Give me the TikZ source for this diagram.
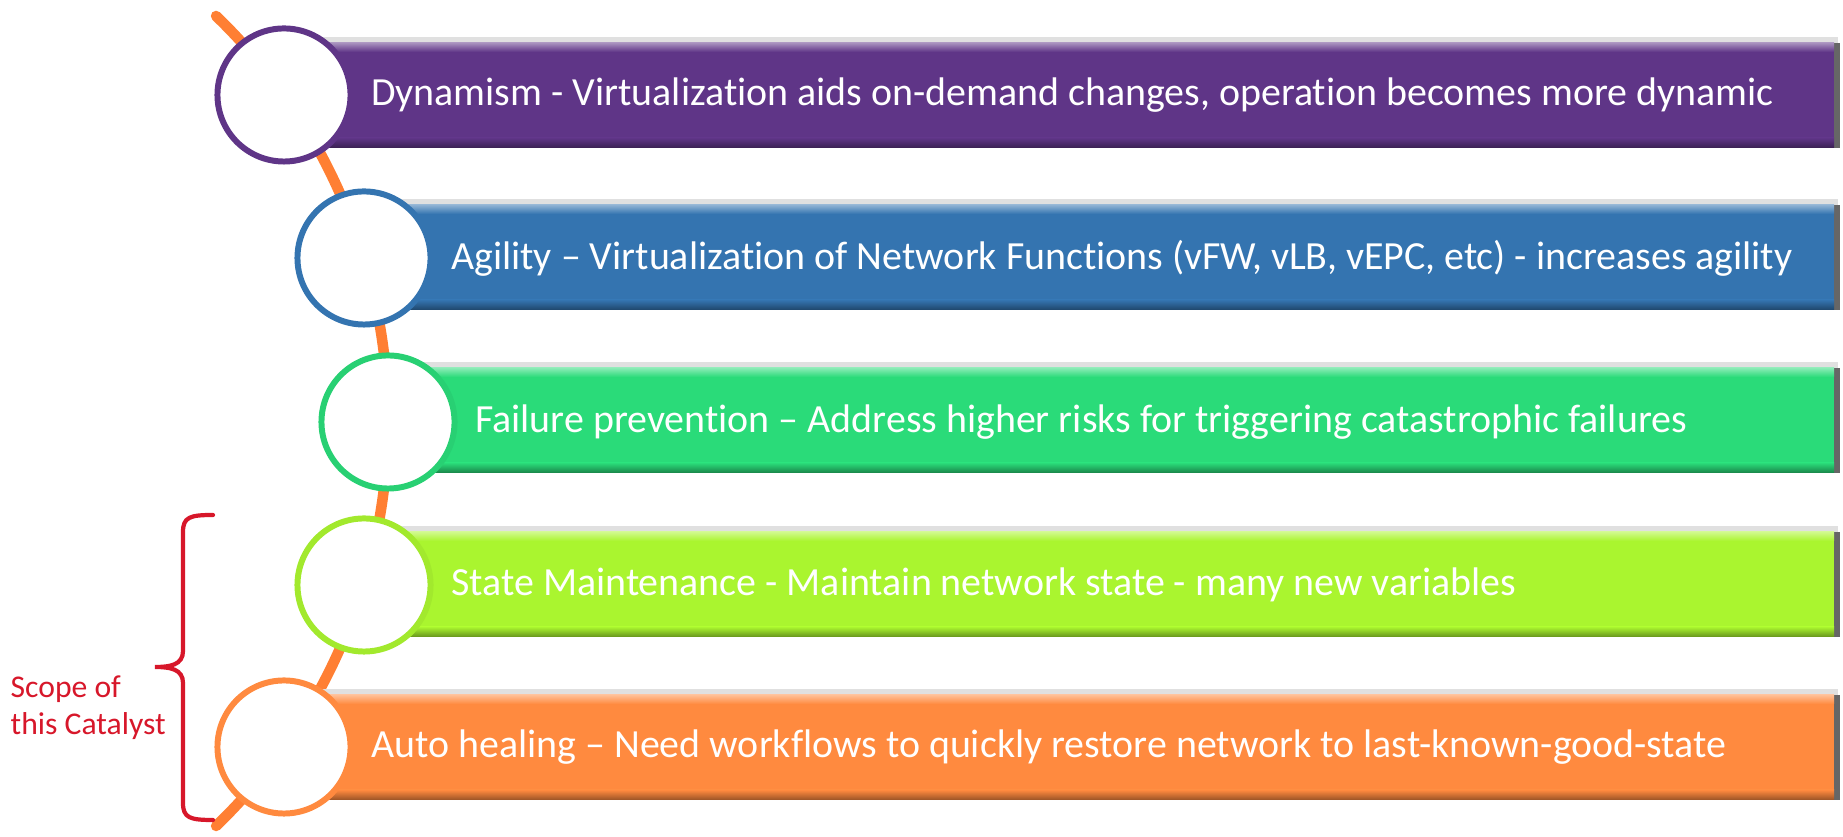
\documentclass[tikz,border=0pt]{standalone}
\usepackage{fontspec}
\setmainfont{Carlito}[Ligatures=NoCommon]
\usetikzlibrary{positioning}
\definecolor{dynpurple}{HTML}{5F3587}
\definecolor{agiblue}{HTML}{3474B0}
\definecolor{failgreen}{HTML}{2ADB79}
\definecolor{stategreen}{HTML}{AAF52F}
\definecolor{healorange}{HTML}{FF8A3F}
\definecolor{arcorange}{HTML}{FF7F33}
\definecolor{scopered}{HTML}{D7172A}

\begin{document}
\begin{tikzpicture}[x=0.01cm, y=0.01cm,
		stage/.style={circle, draw=#1, line width=1.7pt, fill=white, minimum size=1.33cm, inner sep=0pt},
		bartext/.style={text=white, inner sep=0pt, font=\fontsize{11.35}{13.5}\selectfont},
		hub/.style={draw=arcorange, line width=3pt, line cap=round},
		brace/.style={draw=scopered, line width=1.2pt, line cap=round},
	]
		\useasboundingbox (0,0) rectangle (1843,837);

		% orange backbone arc
		\coordinate (centre) at (-175,416);
		\draw[hub] (centre) ++(46:563) arc[start angle=46, end angle=-46, radius=563];

		% bevelled bars: left x / top y / colour
		\foreach \bx/\by/\bc in {284/794/dynpurple, 364/632/agiblue, 388/469/failgreen, 364/305/stategreen, 284/142/healorange}{
			\fill[black!12] (\bx,\by+6) rectangle (1838,\by-105);
			\fill[black!60] (1833,\by) rectangle (1840,\by-105);
			\fill[\bc] (\bx,\by) rectangle (1834,\by-105);
			\shade[top color=\bc!55!white, bottom color=\bc] (\bx,\by) rectangle (1834,\by-9);
			\shade[top color=\bc, bottom color=\bc!60!black] (\bx,\by-95) rectangle (1834,\by-105);
		}

		\node[stage=dynpurple] (s1) at (284,742) {};
		\node[stage=agiblue] (s2) at (364,579) {};
		\node[stage=failgreen!95!black] (s3) at (388,415) {};
		\node[stage=stategreen!95!black] (s4) at (364,252) {};
		\node[stage=healorange] (s5) at (284,90) {};

		\node[bartext, right=0.17cm of s1] (t1) {Dynamism - Virtualization aids on-demand changes, operation becomes more dynamic};
		\node[bartext, right=0.17cm of s2] (t2) {Agility -- Virtualization of Network Functions (vFW, vLB, vEPC, etc) - increases agility};
		\node[bartext, right=0.17cm of s3] (t3) {Failure prevention -- Address higher risks for triggering catastrophic failures};
		\node[bartext, right=0.17cm of s4] (t4) {State Maintenance - Maintain network state - many new variables};
		\node[bartext, right=0.17cm of s5] (t5) {Auto healing -- Need workflows to quickly restore network to last-known-good-state};

		% scope bracket
		\draw[brace] (213,322) .. controls (190,322) and (183,320) .. (183,305) -- (183,186)
			.. controls (183,172) and (170,170) .. (155,170)
			.. controls (170,170) and (183,168) .. (183,154) -- (183,34)
			.. controls (183,19) and (190,17) .. (213,17);
		\node[anchor=west, align=left, text=scopered, inner sep=0pt,
			font=\fontsize{9}{10.5}\selectfont] (scope) at (10,129) {Scope of\\this Catalyst};
	\end{tikzpicture}
\end{document}
